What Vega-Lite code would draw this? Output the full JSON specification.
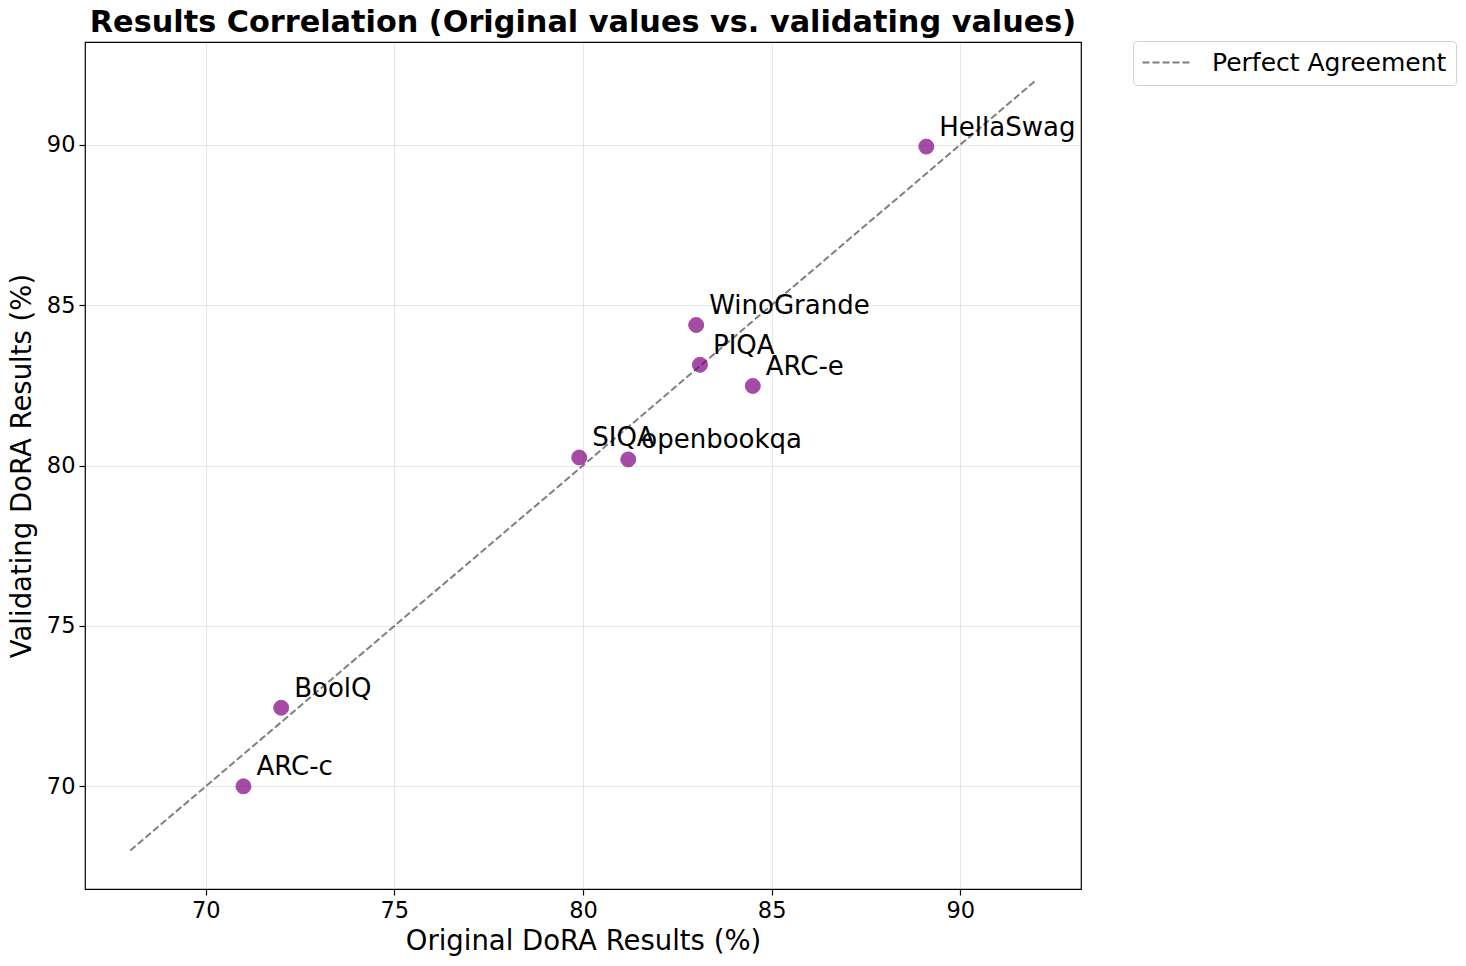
{
  "$schema": "https://vega.github.io/schema/vega-lite/v6.json",
  "width": 996,
  "height": 847,
  "autosize": {"type": "none"},
  "padding": {"left": 85, "top": 42, "right": 385, "bottom": 77},
  "background": "white",
  "config": {
    "font": "DejaVu Sans",
    "view": {"stroke": "black", "strokeWidth": 1.2},
    "axis": {
      "labelFont": "DejaVu Sans",
      "titleFont": "DejaVu Sans",
      "labelFontSize": 22.5,
      "titleFontSize": 27.5,
      "titleFontWeight": "normal",
      "labelColor": "black",
      "titleColor": "black",
      "tickColor": "black",
      "tickSize": 6,
      "tickWidth": 1.2,
      "domain": false,
      "gridColor": "#b0b0b0",
      "gridOpacity": 0.3,
      "gridWidth": 1,
      "labelPadding": 4
    }
  },
  "title": {
    "text": "Results Correlation (Original values vs. validating values)",
    "font": "DejaVu Sans",
    "fontSize": 30.3,
    "fontWeight": "bold",
    "color": "black",
    "anchor": "middle",
    "offset": 2
  },
  "layer": [
    {
      "data": {"values": [{"x": 68, "y": 68, "series": "Perfect Agreement"}, {"x": 92, "y": 92, "series": "Perfect Agreement"}]},
      "mark": {"type": "line", "strokeDash": [7, 3], "strokeWidth": 2, "opacity": 0.5},
      "encoding": {
        "x": {"field": "x", "type": "quantitative", "scale": {"domain": [66.8, 93.2], "nice": false, "zero": false},
              "axis": {"values": [70, 75, 80, 85, 90], "title": "Original DoRA Results (%)", "titlePadding": 6}},
        "y": {"field": "y", "type": "quantitative", "scale": {"domain": [66.8, 93.2], "nice": false, "zero": false},
              "axis": {"values": [70, 75, 80, 85, 90], "title": "Validating DoRA Results (%)", "titlePadding": 10}},
        "stroke": {"field": "series", "type": "nominal", "scale": {"range": ["black"]},
                   "legend": {"title": null, "orient": "none", "legendX": 1048, "legendY": -1,
                              "symbolType": "M-2.4,0H7.6", "symbolStrokeWidth": 2, "symbolDash": [7, 3], "symbolSize": 100, "symbolOpacity": 0.5,
                              "labelFontSize": 25, "labelFont": "DejaVu Sans", "labelColor": "black", "labelLimit": 500,
                              "strokeColor": "#d0d0d0", "fillColor": "white", "cornerRadius": 4, "padding": 9,
                              "labelOffset": 45}}
      }
    },
    {
      "data": {"name": "pts", "values": [
        {"task": "HellaSwag", "orig": 89.1, "val": 89.94},
        {"task": "WinoGrande", "orig": 83.0, "val": 84.38},
        {"task": "PIQA", "orig": 83.1, "val": 83.14},
        {"task": "ARC-e", "orig": 84.5, "val": 82.48},
        {"task": "SIQA", "orig": 79.9, "val": 80.25},
        {"task": "openbookqa", "orig": 81.2, "val": 80.19},
        {"task": "BoolQ", "orig": 72.0, "val": 72.45},
        {"task": "ARC-c", "orig": 71.0, "val": 70.0}
      ]},
      "mark": {"type": "circle", "size": 225, "color": "purple", "opacity": 0.7, "stroke": "purple", "strokeWidth": 1},
      "encoding": {
        "x": {"field": "orig", "type": "quantitative"},
        "y": {"field": "val", "type": "quantitative"}
      }
    },
    {
      "data": {"name": "pts2", "values": [
        {"task": "HellaSwag", "orig": 89.1, "val": 89.94},
        {"task": "WinoGrande", "orig": 83.0, "val": 84.38},
        {"task": "PIQA", "orig": 83.1, "val": 83.14},
        {"task": "ARC-e", "orig": 84.5, "val": 82.48},
        {"task": "SIQA", "orig": 79.9, "val": 80.25},
        {"task": "openbookqa", "orig": 81.2, "val": 80.19},
        {"task": "BoolQ", "orig": 72.0, "val": 72.45},
        {"task": "ARC-c", "orig": 71.0, "val": 70.0}
      ]},
      "mark": {"type": "text", "align": "left", "baseline": "alphabetic", "dx": 13, "dy": -11, "fontSize": 26, "font": "DejaVu Sans", "color": "black"},
      "encoding": {
        "x": {"field": "orig", "type": "quantitative"},
        "y": {"field": "val", "type": "quantitative"},
        "text": {"field": "task"}
      }
    }
  ]
}
